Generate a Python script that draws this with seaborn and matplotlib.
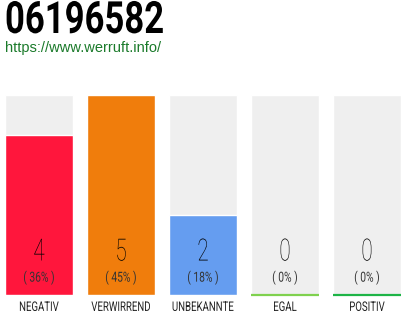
import matplotlib
matplotlib.use("Agg")
import matplotlib.pyplot as plt
import seaborn as sns
import pandas as pd
from matplotlib.patheffects import AbstractPathEffect
from matplotlib.transforms import Affine2D

categories = ["NEGATIV", "VERWIRREND", "UNBEKANNTE", "EGAL", "POSITIV"]
counts = [4, 5, 2, 0, 0]
percents = ["( 36% )", "( 45% )", "( 18% )", "( 0% )", "( 0% )"]
bar_colors = ["#ff163c", "#f07d0c", "#659df0", "#efefef", "#efefef"]
zero_line_colors = [None, None, None, "#7fd14e", "#1db446"]
title = "06196582"
url = "https://www.werruft.info/"


class Squeeze(AbstractPathEffect):
    """Horizontal condensing of glyphs around a display x anchor."""
    def __init__(self, sx, x0):
        super().__init__()
        self.sx = sx
        self.x0 = x0

    def draw_path(self, renderer, gc, tpath, affine, rgbFace=None):
        t = affine + Affine2D().translate(-self.x0, 0).scale(self.sx, 1).translate(self.x0, 0)
        renderer.draw_path(gc, tpath, t, rgbFace)


sns.set_theme(style="white")
plt.rcParams["font.family"] = ["Roboto", "DejaVu Sans"]

df = pd.DataFrame({"cat": categories, "count": counts,
                   "full": [max(counts)] * len(counts)})

fig = plt.figure(figsize=(4.1, 3.2), dpi=100)
ax = fig.add_axes([5 / 410, 25 / 320, 396 / 410, 200 / 320])
w = 68 / 82
sns.barplot(data=df, x="cat", y="full", color="#efefef", width=w,
            saturation=1, ax=ax)
sns.barplot(data=df, x="cat", y="count", hue="cat", palette=bar_colors,
            width=w, saturation=1, legend=False, ax=ax)
ax.set_xlim(-0.5 * w, len(categories) - 1 + 0.5 * w)
ax.set_ylim(0, max(counts))
ax.set_axis_off()

for i, (c, p, lc) in enumerate(zip(counts, percents, zero_line_colors)):
    x0 = ax.transData.transform((i, 0))[0]
    if lc is not None:
        ax.hlines(0, i - w / 2, i + w / 2, color=lc, lw=1.6, zorder=5,
                  clip_on=False)
    ax.text(i, 1.075, str(c), ha="center", va="center", fontsize=22,
            color="#000000", fontweight="light",
            path_effects=[Squeeze(0.68, x0)])
    ax.text(i, 0.44, p, ha="center", va="center", fontsize=10,
            color="#333333", fontweight="normal",
            path_effects=[Squeeze(0.74, x0)])
    ax.text(i, -0.31, categories[i], ha="center", va="center", fontsize=9.5,
            color="#222222", fontweight="normal",
            path_effects=[Squeeze(0.73, x0)])

fig.text(5 / 410, 1 - 21 / 320, title, ha="left", va="center",
         fontsize=32, fontweight="bold", color="#000000",
         path_effects=[Squeeze(0.78, 5)])
fig.text(5 / 410, 1 - 48 / 320, url, ha="left", va="center",
         fontsize=10.5, color="#1a7a2a", family=["Liberation Sans", "DejaVu Sans"])

fig.savefig("out.png", dpi=100)
